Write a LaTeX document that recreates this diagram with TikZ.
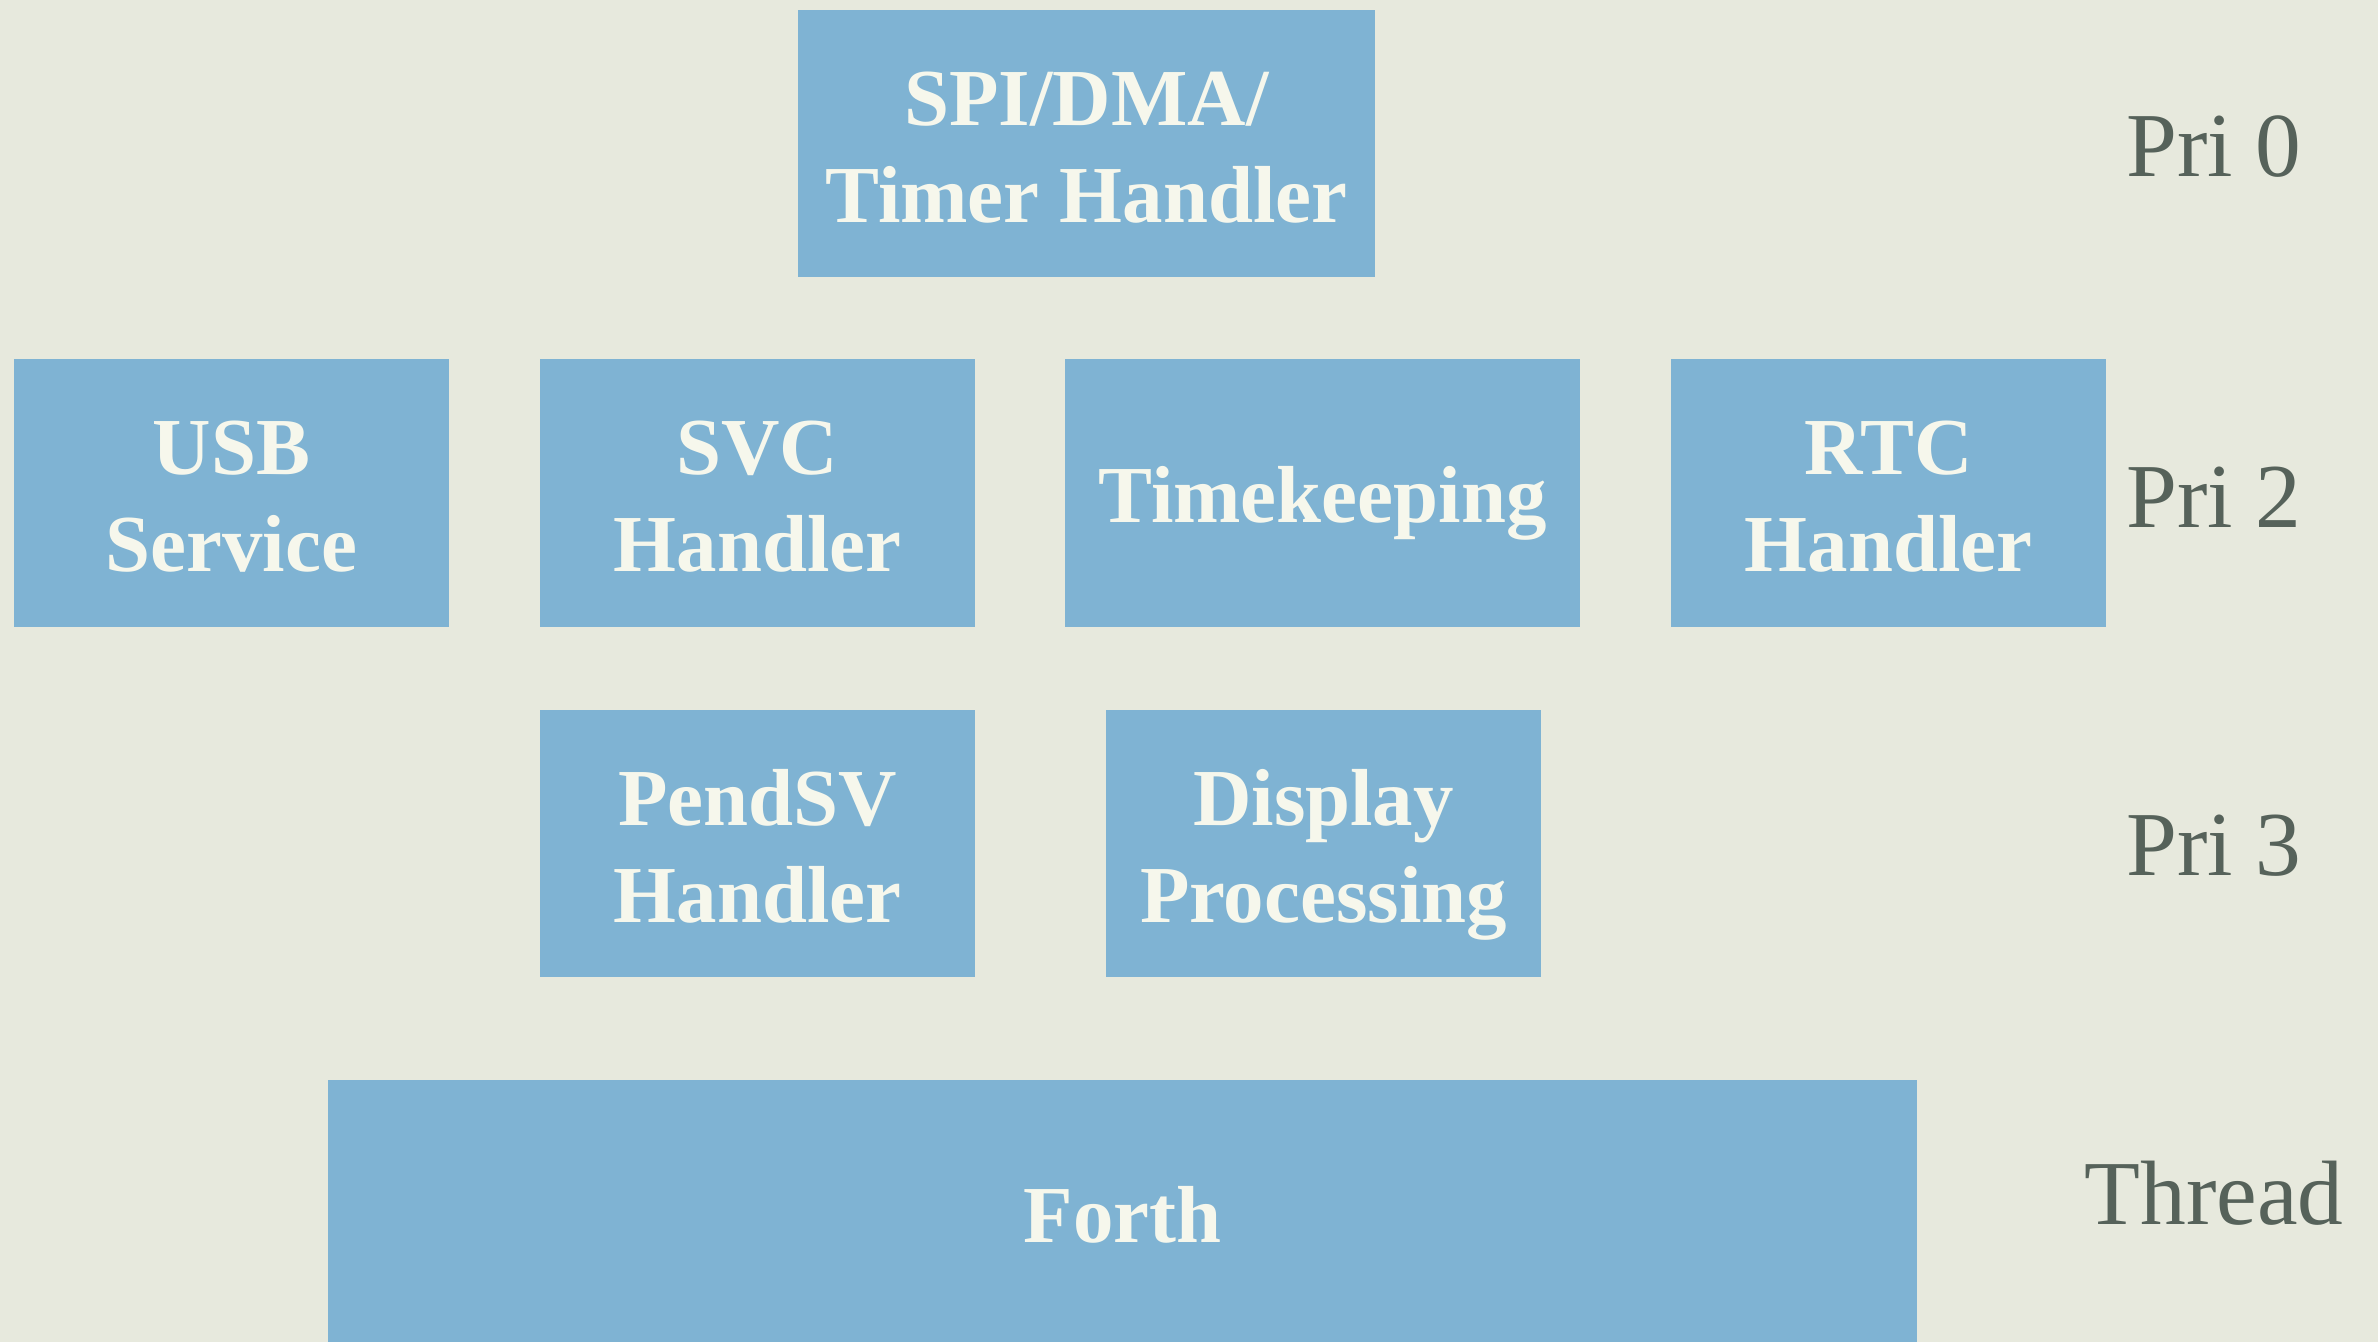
\documentclass[tikz,border=0pt]{standalone}
\usepackage{fontspec}
\setmainfont{Liberation Serif}
\definecolor{bgc}{HTML}{E7E9DD}
\definecolor{boxc}{HTML}{7FB3D3}
\definecolor{boxtxt}{HTML}{F6F7EC}
\definecolor{lblc}{HTML}{56625A}
\newcommand{\twoline}[2]{\raisebox{-0.11cm}[\height][\depth]{\begin{tabular}{@{}c@{}}#1\\#2\end{tabular}}}
\begin{document}
\begin{tikzpicture}[x=0.01cm,y=-0.01cm,
  blk/.style={fill=boxc,draw=none,inner sep=0pt,text=boxtxt,align=center,
    font=\fontsize{23}{27.6}\selectfont\bfseries},
  lbl/.style={text=lblc,inner sep=0pt,font=\fontsize{26}{30}\selectfont}]
\fill[bgc] (0,0) rectangle (2378,1342);
\useasboundingbox (0,0) rectangle (2378,1342);
\node[blk,minimum width=577*0.01cm,minimum height=267*0.01cm] (spi) at (1086.5,143.5) {\twoline{SPI/DMA/}{Timer Handler}};
\node[blk,minimum width=435*0.01cm,minimum height=268*0.01cm] (usb) at (231.5,493) {\twoline{USB}{Service}};
\node[blk,minimum width=435*0.01cm,minimum height=268*0.01cm] (svc) at (757.5,493) {\twoline{SVC}{Handler}};
\node[blk,minimum width=515*0.01cm,minimum height=268*0.01cm] (time) at (1322.5,493) {\raisebox{-0.1cm}[\height][\depth]{Timekeeping}};
\node[blk,minimum width=435*0.01cm,minimum height=268*0.01cm] (rtc) at (1888.5,493) {\twoline{RTC}{Handler}};
\node[blk,minimum width=435*0.01cm,minimum height=267*0.01cm] (pend) at (757.5,843.5) {\twoline{PendSV}{Handler}};
\node[blk,minimum width=435*0.01cm,minimum height=267*0.01cm] (disp) at (1323.5,843.5) {\twoline{Display}{Processing}};
\node[blk,minimum width=1589*0.01cm,minimum height=270*0.01cm] (forth) at (1122.5,1215) {Forth};
\node[lbl] (p0) at (2214,147) {Pri 0};
\node[lbl] (p2) at (2214,497) {Pri 2};
\node[lbl] (p3) at (2214,846) {Pri 3};
\node[lbl] (thr) at (2214,1193) {Thread};
\end{tikzpicture}
\end{document}
